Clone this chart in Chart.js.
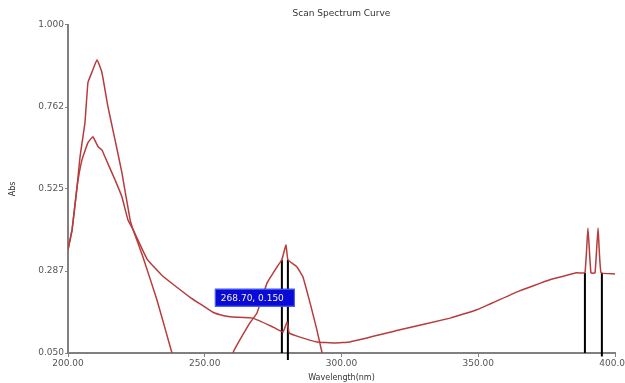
<!DOCTYPE html>
<html>
<head>
<meta charset="utf-8">
<script src="https://cdn.jsdelivr.net/npm/chart.js@4"></script>
<style>
  html, body { margin: 0; padding: 0; background: #fff; }
  #wrap { width: 625px; height: 383px; position: relative; }
</style>
</head>
<body>
<div id="wrap"><canvas id="chart"></canvas></div>
<script>
// wavelength (nm) / absorbance, first trace (tall peak)
const scanAx = [200.0, 201.5, 203.3, 204.4, 206.2, 207.3, 208.8, 210.6, 212.4, 214.6, 217.2, 219.7, 222.7, 223.8, 227.4, 232.5, 238.0, 241.0, 250.0, 258.0, 260.3, 266.5, 269.1, 272.8, 276.4, 278.2, 279.7, 280.4, 283.7, 285.9, 288.5, 291.0, 292.9, 296.0, 320.0, 400.0];
const scanAy = [0.349, 0.407, 0.530, 0.618, 0.717, 0.833, 0.864, 0.899, 0.862, 0.763, 0.667, 0.572, 0.436, 0.407, 0.328, 0.204, 0.050, -0.05, -0.08, -0.05, 0.050, 0.137, 0.166, 0.253, 0.299, 0.320, 0.363, 0.320, 0.299, 0.270, 0.195, 0.117, 0.050, -0.05, -0.08, -0.08];

// second trace
const scanBx = [200.0, 201.5, 203.3, 205.1, 207.3, 209.1, 211.0, 212.4, 213.5, 217.2, 219.7, 221.9, 223.8, 228.9, 234.7, 244.5, 253.0, 257.0, 260.3, 267.6, 275.0, 278.6, 280.1, 280.9, 284.8, 291.0, 297.6, 303.1, 321.4, 339.7, 349.5, 364.2, 376.2, 386.1, 389.0, 390.1, 391.2, 392.7, 393.8, 394.9, 400.0];
const scanBy = [0.349, 0.407, 0.530, 0.609, 0.659, 0.676, 0.647, 0.638, 0.618, 0.551, 0.502, 0.436, 0.407, 0.322, 0.272, 0.212, 0.168, 0.158, 0.154, 0.151, 0.125, 0.111, 0.140, 0.108, 0.096, 0.082, 0.079, 0.082, 0.117, 0.151, 0.175, 0.227, 0.262, 0.282, 0.282, 0.412, 0.282, 0.282, 0.412, 0.282, 0.279];

// peak pick markers
const markerX = [278.2, 280.4, 389.0, 395.2];
const markerTop = [0.320, 0.320, 0.282, 0.282];
const markerBottom = [0.050, 0.030, 0.050, 0.040];

const xTicks = [200, 250, 300, 350, 400];
const yTicks = [0.050, 0.287, 0.525, 0.762, 1.000];
const readoutText = '268.70, 0.150';

const FONT = 'DejaVu Sans';
const traceColor = '#b83c3c';

function toPoints(xs, ys) {
    return xs.map((x, i) => ({ x: x, y: ys[i] }));
}

// vertical markers, one segment each, split with null points
let markerPts = [];
markerX.forEach((x, i) => {
    markerPts.push({ x: x, y: markerTop[i] });
    markerPts.push({ x: x, y: markerBottom[i] });
    markerPts.push({ x: x, y: null });
});

// blue readout box near the 280 nm peak
const readoutBox = {
    id: 'readoutBox',
    afterDatasetsDraw(chart) {
        const ctx = chart.ctx;
        const xs = chart.scales.x, ys = chart.scales.y;
        const left = xs.getPixelForValue(253.7);
        const top = ys.getPixelForValue(0.236);
        const w = 80, h = 18;
        ctx.save();
        ctx.fillStyle = '#0a0ad8';
        ctx.fillRect(left, top, w, h);
        ctx.strokeStyle = '#4a6cff';
        ctx.lineWidth = 1;
        ctx.strokeRect(left + 0.5, top + 0.5, w - 1, h - 1);
        ctx.fillStyle = '#f4f4d8';
        ctx.font = '9px "' + FONT + '"';
        ctx.textBaseline = 'middle';
        ctx.fillText(readoutText, left + 6, top + h / 2 + 1);
        ctx.restore();
    }
};

new Chart(document.getElementById('chart'), {
    type: 'line',
    data: {
        datasets: [
            {
                data: toPoints(scanAx, scanAy),
                borderColor: traceColor,
                borderWidth: 1.5,
                pointRadius: 0,
                tension: 0.1
            },
            {
                data: toPoints(scanBx, scanBy),
                borderColor: traceColor,
                borderWidth: 1.5,
                pointRadius: 0,
                tension: 0.1
            },
            {
                data: markerPts,
                borderColor: '#000',
                borderWidth: 2,
                pointRadius: 0,
                spanGaps: false,
                clip: false
            }
        ]
    },
    options: {
        responsive: true,
        maintainAspectRatio: false,
        animation: false,
        layout: { padding: { left: 0, right: 10, top: 0, bottom: 0 } },
        plugins: {
            legend: { display: false },
            tooltip: { enabled: false },
            title: {
                display: true,
                text: 'Scan Spectrum Curve',
                fullSize: false,
                color: '#333',
                font: { family: FONT, size: 9, weight: 'normal' },
                padding: { top: 8, bottom: 6 }
            }
        },
        scales: {
            x: {
                type: 'linear',
                min: 200,
                max: 400,
                afterBuildTicks: s => { s.ticks = xTicks.map(v => ({ value: v })); },
                afterFit: s => { s.height = 30; s.paddingLeft = 0; s.paddingRight = 0; },
                ticks: {
                    color: '#555',
                    font: { family: FONT, size: 9 },
                    padding: 1,
                    maxRotation: 0,
                    callback: v => Number(v).toFixed(2)
                },
                grid: { drawOnChartArea: false, drawTicks: true, tickLength: 4, color: '#808080' },
                border: { color: '#808080', width: 2 },
                title: {
                    display: true,
                    text: 'Wavelength(nm)',
                    color: '#333',
                    font: { family: FONT, size: 8 },
                    padding: { top: 0, bottom: 0 }
                }
            },
            y: {
                type: 'linear',
                min: 0.05,
                max: 1.0,
                afterBuildTicks: s => { s.ticks = yTicks.map(v => ({ value: v })); },
                afterFit: s => { s.width = 68; s.paddingTop = 0; s.paddingBottom = 0; },
                ticks: {
                    color: '#555',
                    font: { family: FONT, size: 9 },
                    padding: 1,
                    callback: v => Number(v).toFixed(3)
                },
                grid: { drawOnChartArea: false, drawTicks: true, tickLength: 3, color: '#808080' },
                border: { color: '#808080', width: 2 },
                title: {
                    display: true,
                    text: 'Abs',
                    color: '#333',
                    font: { family: FONT, size: 8 },
                    padding: { top: 8, bottom: 0 }
                }
            }
        }
    },
    plugins: [readoutBox]
});
</script>
</body>
</html>
